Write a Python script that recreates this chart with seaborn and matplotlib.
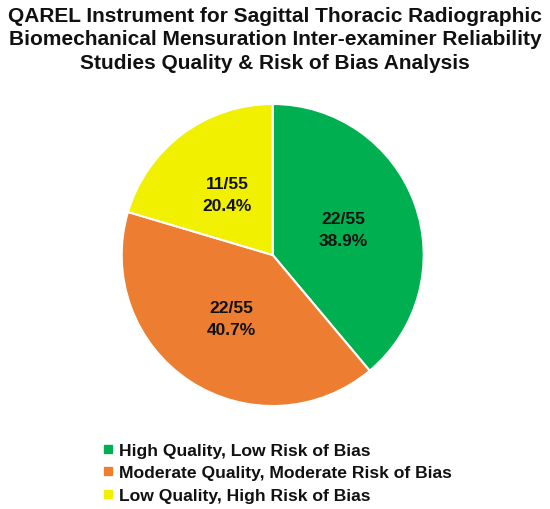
import matplotlib
matplotlib.use("Agg")
import matplotlib.pyplot as plt
from matplotlib.lines import Line2D
import seaborn as sns

categories = ["High Quality, Low Risk of Bias",
              "Moderate Quality, Moderate Risk of Bias",
              "Low Quality, High Risk of Bias"]
percentages = [38.9, 40.7, 20.4]
counts = ["22/55", "22/55", "11/55"]
colors = ["#00B050", "#ED7D31", "#F0F000"]
title = ("QAREL Instrument for Sagittal Thoracic Radiographic\n"
         "Biomechanical Mensuration Inter-examiner Reliability\n"
         "Studies Quality & Risk of Bias Analysis")

sns.set_theme(style="white")
plt.rcParams['font.family'] = ['Liberation Sans', 'DejaVu Sans']

fig = plt.figure(figsize=(5.5, 5.1), dpi=100)
fig.patch.set_facecolor("white")

R = 151
cx, cy = 272.7, 256
pad = 1.03
W, H = 550, 510
ax = fig.add_axes([(cx - R * pad) / W, 1 - (cy + R * pad) / H,
                   2 * R * pad / W, 2 * R * pad / H])

labels_in = [f"{c}\n{p}%" for c, p in zip(counts, percentages)]
wedges, texts = ax.pie(percentages, colors=colors, startangle=90, counterclock=False,
                       labels=labels_in, labeldistance=0.5,
                       wedgeprops=dict(edgecolor="white", linewidth=1.5),
                       textprops=dict(fontsize=12.5, fontweight="bold", color="#111111",
                                      ha="center", va="center"))
for t in texts:
    t.set_linespacing(1.6)
ax.set_xlim(-pad, pad)
ax.set_ylim(-pad, pad)
ax.set_aspect("equal")
ax.axis("off")

fig.text(0.5, 1 - 40 / H, title, ha="center", va="center", fontsize=15,
         fontweight="bold", color="#111111", linespacing=1.27)

handles = [Line2D([0], [0], marker="s", linestyle="none", markersize=6,
                  markerfacecolor=c, markeredgecolor=c) for c in colors]
leg = fig.legend(handles, categories, loc="upper left",
                 bbox_to_anchor=(103 / W, 1 - 444 / H), frameon=False,
                 prop=dict(size=12.6, weight="bold"), handlelength=0.6,
                 handletextpad=0.3, labelspacing=0.4, borderpad=0, borderaxespad=0)
for t in leg.get_texts():
    t.set_color("#111111")

fig.savefig("out.png", dpi=100, facecolor="white")
